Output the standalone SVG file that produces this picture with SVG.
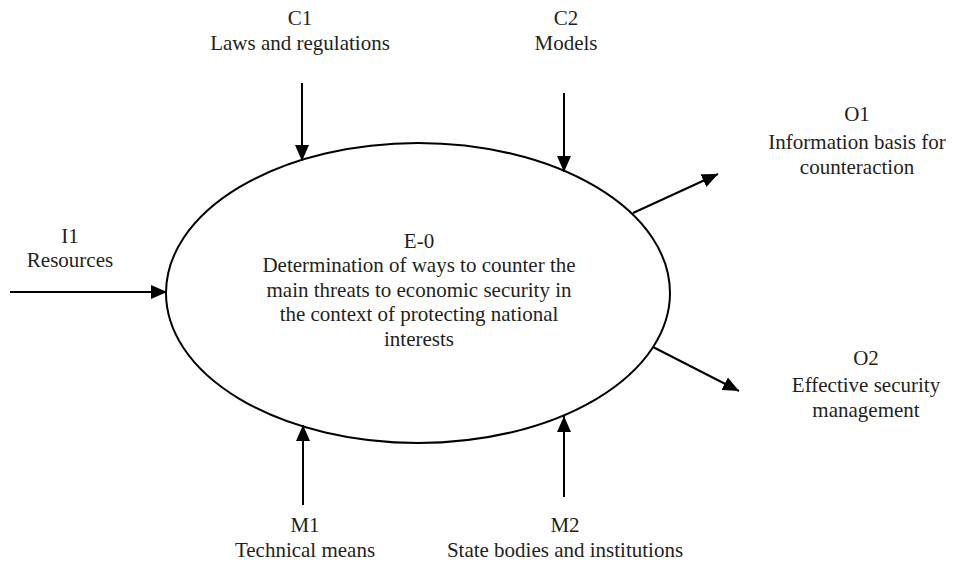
<svg xmlns="http://www.w3.org/2000/svg" width="957" height="572" viewBox="0 0 957 572">
<defs>
<style>
text{font-family:"Liberation Serif","Times New Roman",serif;font-size:21px;fill:#231f20;text-anchor:middle}
.ln{stroke:#000;stroke-width:2;fill:none}
</style>
<marker id="ah" markerUnits="userSpaceOnUse" markerWidth="16" markerHeight="14" refX="16" refY="7" orient="auto">
<path d="M0,0 L16,7 L0,14 z" fill="#000"/>
</marker>
</defs>
<rect width="957" height="572" fill="#fff"/>
<g id="E0" font-family="Liberation Serif, serif">
<ellipse cx="418" cy="293" rx="252" ry="150" fill="#fff" stroke="#000" stroke-width="2"/>
<text x="419" y="248">E-0</text>
<text x="419" y="272">Determination of ways to counter the</text>
<text x="419" y="297">main threats to economic security in</text>
<text x="419" y="321">the context of protecting national</text>
<text x="419" y="346">interests</text>
</g>
<g id="C1"><text x="300" y="25">C1</text><text x="300" y="50">Laws and regulations</text></g>
<g id="C2"><text x="566" y="25">C2</text><text x="566" y="50">Models</text></g>
<g id="O1"><text x="857" y="121">O1</text><text x="857" y="149">Information basis for</text><text x="857" y="174">counteraction</text></g>
<g id="I1"><text x="70" y="243">I1</text><text x="70" y="267">Resources</text></g>
<g id="O2"><text x="866" y="365">O2</text><text x="866" y="392">Effective security</text><text x="866" y="417">management</text></g>
<g id="M1"><text x="305" y="532">M1</text><text x="305" y="557">Technical means</text></g>
<g id="M2"><text x="565" y="532">M2</text><text x="565" y="557">State bodies and institutions</text></g>
<g id="connectors">
<line class="ln" x1="302" y1="83" x2="302" y2="161" marker-end="url(#ah)"/>
<line class="ln" x1="564" y1="93" x2="564" y2="172" marker-end="url(#ah)"/>
<line class="ln" x1="10" y1="292" x2="167" y2="292" marker-end="url(#ah)"/>
<line class="ln" x1="633" y1="213" x2="718" y2="174" marker-end="url(#ah)"/>
<line class="ln" x1="653" y1="347" x2="739" y2="391" marker-end="url(#ah)"/>
<line class="ln" x1="303" y1="505" x2="303" y2="425" marker-end="url(#ah)"/>
<line class="ln" x1="564" y1="497" x2="564" y2="416" marker-end="url(#ah)"/>
</g>
</svg>
